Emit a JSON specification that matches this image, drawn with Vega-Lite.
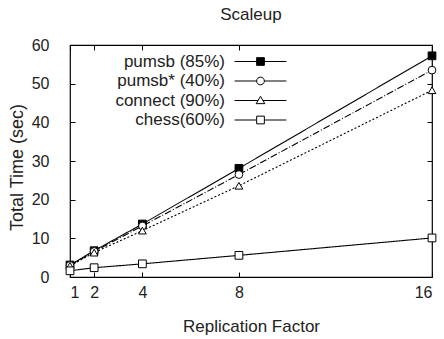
{
  "$schema": "https://vega.github.io/schema/vega-lite/v6.json",
  "autosize": "none",
  "width": 362,
  "height": 232,
  "padding": {"left": 70, "top": 45, "right": 12, "bottom": 62},
  "background": "white",
  "config": {
    "font": "Liberation Sans",
    "view": {"stroke": "black", "strokeWidth": 1.2},
    "axis": {"grid": false, "domain": false, "tickColor": "black", "labelColor": "#222", "titleColor": "#222", "labelFont": "Liberation Sans", "titleFont": "Liberation Sans", "labelFontSize": 16, "titleFontSize": 17, "titleFontWeight": "normal"}
  },
  "title": {"text": "Scaleup", "fontSize": 17, "fontWeight": "normal", "font": "Liberation Sans", "color": "#222", "offset": 13, "anchor": "middle"},
  "data": {
    "values": [
      {"series": "pumsb (85%)", "factor": 1, "time": 3.1},
      {"series": "pumsb (85%)", "factor": 2, "time": 6.8},
      {"series": "pumsb (85%)", "factor": 4, "time": 13.7},
      {"series": "pumsb (85%)", "factor": 8, "time": 28.1},
      {"series": "pumsb (85%)", "factor": 16, "time": 57.2},
      {"series": "pumsb* (40%)", "factor": 1, "time": 3.0},
      {"series": "pumsb* (40%)", "factor": 2, "time": 6.6},
      {"series": "pumsb* (40%)", "factor": 4, "time": 13.2},
      {"series": "pumsb* (40%)", "factor": 8, "time": 26.5},
      {"series": "pumsb* (40%)", "factor": 16, "time": 53.5},
      {"series": "connect (90%)", "factor": 1, "time": 2.9},
      {"series": "connect (90%)", "factor": 2, "time": 6.3},
      {"series": "connect (90%)", "factor": 4, "time": 12.0},
      {"series": "connect (90%)", "factor": 8, "time": 23.6},
      {"series": "connect (90%)", "factor": 16, "time": 48.3},
      {"series": "chess(60%)", "factor": 1, "time": 1.6},
      {"series": "chess(60%)", "factor": 2, "time": 2.4},
      {"series": "chess(60%)", "factor": 4, "time": 3.4},
      {"series": "chess(60%)", "factor": 8, "time": 5.6},
      {"series": "chess(60%)", "factor": 16, "time": 10.1}
    ]
  },
  "layer": [
    {
      "mark": {"type": "line", "color": "black", "strokeWidth": 1.1},
      "encoding": {
        "x": {"field": "factor", "type": "quantitative", "scale": {"domain": [1, 16], "nice": false, "zero": false},
              "axis": {"orient": "bottom", "values": [1, 2, 4, 8, 16], "tickSize": -5, "labelPadding": 12, "title": "Replication Factor", "titlePadding": 18}},
        "y": {"field": "time", "type": "quantitative", "scale": {"domain": [0, 60], "nice": false},
              "axis": {"orient": "left", "values": [0, 10, 20, 30, 40, 50, 60], "tickSize": -5, "labelPadding": 26, "title": "Total Time (sec)", "titleFontSize": 18, "titleY": 122, "titlePadding": 5}},
        "strokeDash": {"field": "series", "type": "nominal",
                       "scale": {"domain": ["pumsb (85%)", "pumsb* (40%)", "connect (90%)", "chess(60%)"], "range": [[1, 0], [7, 2, 1, 2], [2, 2], [1, 0]]},
                       "legend": null},
        "detail": {"field": "series"}
      }
    },
    {
      "mark": {"type": "point", "stroke": "black", "strokeWidth": 1, "size": 60, "opacity": 1},
      "encoding": {
        "x": {"field": "factor", "type": "quantitative", "axis": {"orient": "top", "values": [1, 2, 4, 8, 16], "tickSize": -5, "labels": false, "title": null}},
        "y": {"field": "time", "type": "quantitative", "axis": {"orient": "right", "values": [0, 10, 20, 30, 40, 50, 60], "tickSize": -5, "labels": false, "title": null}},
        "shape": {"field": "series", "type": "nominal",
                  "scale": {"domain": ["pumsb (85%)", "pumsb* (40%)", "connect (90%)", "chess(60%)"], "range": ["square", "circle", "triangle-up", "square"]},
                  "legend": null},
        "fill": {"field": "series", "type": "nominal",
                 "scale": {"domain": ["pumsb (85%)", "pumsb* (40%)", "connect (90%)", "chess(60%)"], "range": ["black", "white", "white", "white"]},
                 "legend": null}
      }
    },
    {
      "transform": [{"filter": "datum.factor < 0"}],
      "mark": {"type": "point", "stroke": "black", "strokeWidth": 1, "filled": false, "opacity": 1},
      "encoding": {
        "shape": {"field": "series", "type": "nominal",
                  "scale": {"domain": ["pumsb (85%)", "pumsb* (40%)", "connect (90%)", "chess(60%)"],
                            "range": [
                              "M-3.7,0H-0.55M0.55,0H3.7M-0.55,-0.55H0.55V0.55H-0.55Z",
                              "M-3.7,0H-0.55M0.55,0H3.7M-0.55,0A0.55,0.55 0 1,0 0.55,0A0.55,0.55 0 1,0 -0.55,0Z",
                              "M-3.7,0H-0.35M0.35,0H3.7M0,-0.6L0.62,0.45H-0.62Z",
                              "M-3.7,0H-0.55M0.55,0H3.7M-0.55,-0.55H0.55V0.55H-0.55Z"
                            ]},
                  "legend": {"title": null, "orient": "none", "legendX": 182, "legendY": 8, "padding": 0,
                             "symbolSize": 196, "symbolStrokeColor": "black", "symbolStrokeWidth": 1, "symbolOpacity": 1,
                             "labelAlign": "right", "labelOffset": -44, "labelFontSize": 17, "labelColor": "#222", "labelFont": "Liberation Sans",
                             "rowPadding": 1.5, "labelLimit": 300,
                             "encode": {"symbols": {"update": {"stroke": {"value": "black"}, "strokeWidth": {"value": 1}, "opacity": {"value": 1}}}}}},
        "fill": {"field": "series", "type": "nominal",
                 "scale": {"domain": ["pumsb (85%)", "pumsb* (40%)", "connect (90%)", "chess(60%)"], "range": ["black", "white", "white", "white"]},
                 "legend": {"title": null, "orient": "none", "legendX": 182, "legendY": 8, "padding": 0,
                             "symbolSize": 196, "symbolStrokeColor": "black", "symbolStrokeWidth": 1, "symbolOpacity": 1,
                             "labelAlign": "right", "labelOffset": -44, "labelFontSize": 17, "labelColor": "#222", "labelFont": "Liberation Sans",
                             "rowPadding": 1.5, "labelLimit": 300,
                             "encode": {"symbols": {"update": {"stroke": {"value": "black"}, "strokeWidth": {"value": 1}, "opacity": {"value": 1}}}}}}
      }
    }
  ],
  "resolve": {"scale": {"shape": "independent", "fill": "independent"}, "axis": {"x": "independent", "y": "independent"}}
}
